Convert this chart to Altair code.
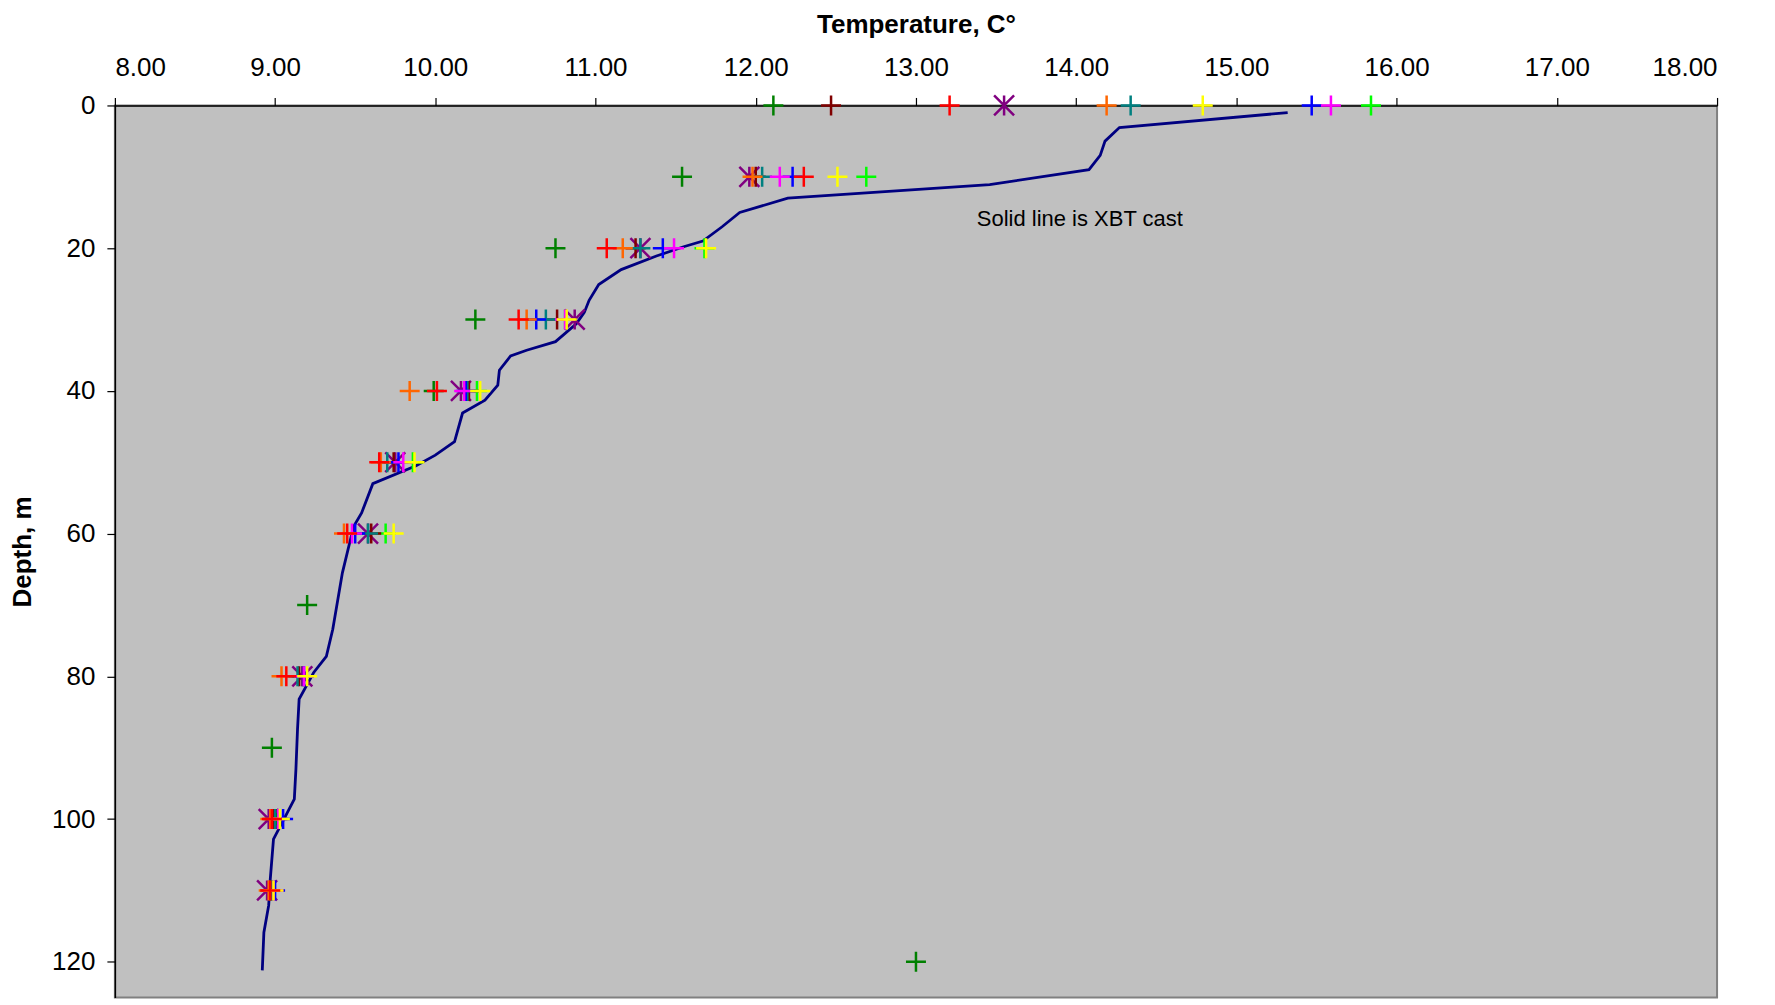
import altair as alt
import pandas as pd

# Bottle/CTD style samples (temperature, C) at standard depths (m)
depths = [0, 10, 20, 30, 40, 50, 60, 80, 100, 110]
lime_t = [15.84, 12.69, 11.68, 10.81, 10.26, 9.86, 9.69, 9.17, 9.02, 8.98]
purple_t = [13.55, 11.96, 11.28, 10.87, 10.16, 9.75, 9.58, 9.17, 8.96, 8.95]
darkred_t = [12.47, 12.00, 11.25, 10.76, 10.21, 9.74, 9.60, 9.15, 8.99, 8.97]
teal_t = [14.34, 12.04, 11.28, 10.69, 10.20, 9.70, 9.58, 9.14, 9.00, 8.98]
blue_t = [15.47, 12.23, 11.42, 10.63, 10.19, 9.77, 9.50, 9.18, 9.05, 9.00]
magenta_t = [15.59, 12.15, 11.49, 10.81, 10.18, 9.80, 9.48, 9.18, 9.02, 8.99]
orange_t = [14.19, 11.98, 11.17, 10.57, 9.84, 9.66, 9.43, 9.04, 8.97, 8.96]
yellow_t = [14.79, 12.51, 11.69, 10.82, 10.28, 9.87, 9.74, 9.20, 9.03, 8.99]
red_t = [13.21, 12.30, 11.07, 10.52, 10.01, 9.65, 9.45, 9.07, 8.98, 8.97]

green_depths = [0, 10, 20, 30, 40, 70, 90, 100, 120]
green_t = [12.11, 11.54, 10.75, 10.25, 9.99, 9.20, 8.98, 9.01, 13.00]

# XBT cast (solid line)
xbt_depth = [1.0, 3.1, 5.0, 7.0, 9.0, 11.1, 13.0, 15.0, 17.0, 19.0, 19.8, 21.1, 23.0,
             25.1, 27.3, 29.0, 30.6, 33.1, 34.3, 35.1, 37.1, 39.2, 41.3, 43.1, 47.1,
             49.0, 50.5, 53.0, 57.1, 59.0, 65.5, 73.4, 77.2, 79.5, 83.2, 87.4, 93.0,
             97.2, 99.8, 102.8, 108.4, 112.1, 115.9, 121.2]
xbt_temp = [15.32, 14.27, 14.18, 14.15, 14.08, 13.46, 12.20, 11.90, 11.79, 11.67, 11.55,
            11.38, 11.16, 11.02, 10.96, 10.93, 10.88, 10.75, 10.57, 10.47, 10.40, 10.39,
            10.31, 10.17, 10.12, 10.00, 9.88, 9.61, 9.54, 9.49, 9.42, 9.36, 9.32, 9.24,
            9.15, 9.14, 9.13, 9.12, 9.06, 8.99, 8.97, 8.96, 8.93, 8.92]

series_names = ["lime", "green", "purple", "darkred", "teal", "blue", "magenta",
                "orange", "yellow", "red"]
series_colors = ["#00FF00", "#008000", "#800080", "#800000", "#008080", "#0000FF",
                 "#FF00FF", "#FF6600", "#FFFF00", "#FF0000"]

PLUS = "M-1,0L1,0M0,-1L0,1"
STAR = "M-1,-1L1,1M-1,1L1,-1M0,-1L0,1"
series_shapes = [STAR if s == "purple" else PLUS for s in series_names]

vals = {
    "lime": lime_t, "purple": purple_t, "darkred": darkred_t, "teal": teal_t,
    "blue": blue_t, "magenta": magenta_t, "orange": orange_t, "yellow": yellow_t,
    "red": red_t,
}
rows = []
for i, s in enumerate(series_names):
    if s == "green":
        for d, t in zip(green_depths, green_t):
            rows.append({"series": s, "depth": d, "temp": t, "ord": i})
    else:
        for d, t in zip(depths, vals[s]):
            rows.append({"series": s, "depth": d, "temp": t, "ord": i})
pts = pd.DataFrame(rows)
xbt = pd.DataFrame({"depth": xbt_depth, "temp": xbt_temp})
note = pd.DataFrame({"temp": [13.38], "depth": [15.9], "label": ["Solid line is XBT cast"]})

FONT = "Liberation Sans"
xscale = alt.Scale(domain=[8, 18], nice=False, zero=False)
yscale = alt.Scale(domain=[0, 125], reverse=True, nice=False, zero=False)

xaxis = alt.Axis(orient="top", values=list(range(8, 19)), format=".2f",
                 title="Temperature, C°", grid=False, tickSize=8, labelPadding=17,
                 labelFontSize=26, labelFont=FONT, labelColor="black",
                 titleFont=FONT, titleFontSize=26, titleFontWeight="bold",
                 titleColor="black", titlePadding=17, domainColor="black",
                 domainWidth=1.5, tickColor="black", tickWidth=1.2)
yaxis = alt.Axis(orient="left", values=list(range(0, 121, 20)), format="d",
                 title="Depth, m", grid=False, tickSize=8, labelPadding=12,
                 labelFontSize=26, labelFont=FONT, labelColor="black",
                 titleFont=FONT, titleFontSize=26, titleFontWeight="bold",
                 titleColor="black", titlePadding=16, domainColor="black",
                 domainWidth=1.5, tickColor="black", tickWidth=1.2)

line = alt.Chart(xbt).mark_line(color="#000080", strokeWidth=2.8).encode(
    x=alt.X("temp:Q", scale=xscale, axis=xaxis),
    y=alt.Y("depth:Q", scale=yscale, axis=yaxis),
    order=alt.Order("depth:Q"),
)

points = alt.Chart(pts).mark_point(filled=False, size=400, strokeWidth=2.5, opacity=1).encode(
    x=alt.X("temp:Q", scale=xscale),
    y=alt.Y("depth:Q", scale=yscale),
    color=alt.Color("series:N", scale=alt.Scale(domain=series_names, range=series_colors), legend=None),
    shape=alt.Shape("series:N", scale=alt.Scale(domain=series_names, range=series_shapes), legend=None),
    order=alt.Order("ord:Q"),
)

text = alt.Chart(note).mark_text(align="left", baseline="middle", fontSize=22,
                                 font=FONT, color="black").encode(
    x=alt.X("temp:Q", scale=xscale),
    y=alt.Y("depth:Q", scale=yscale),
    text="label:N",
)

chart = alt.layer(line, points, text).properties(
    width=1604, height=893,
    autosize=alt.AutoSizeParams(type="none"),
    padding={"left": 107, "top": 97, "right": 50, "bottom": 5},
).configure_view(fill="#C0C0C0", stroke="#808080", strokeWidth=2)

chart.save("out.html", embed_options={"renderer": "svg", "actions": False})
